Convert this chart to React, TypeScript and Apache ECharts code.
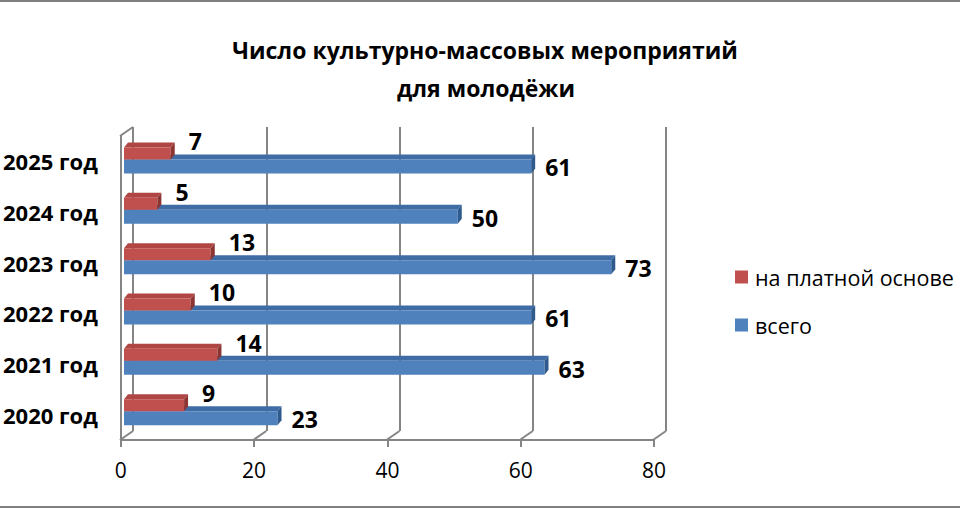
import React, { useEffect, useRef } from "react";
import * as echarts from "echarts";

const categories = ["2020 год", "2021 год", "2022 год", "2023 год", "2024 год", "2025 год"];
const paidValues = [9, 14, 10, 13, 5, 7];
const totalValues = [23, 63, 61, 73, 50, 61];
const seriesNames = ["на платной основе", "всего"];
const xTickValues = [0, 20, 40, 60, 80];
const titleLines = ["Число культурно-массовых мероприятий", "для молодёжи"];

const FONT = "'Open Sans', 'Noto Sans', sans-serif";
const GRAY = "#858585";
const RED = { front: "#C0504D", top: "#B04643", side: "#8C3533" };
const BLUE = { front: "#4F81BD", top: "#3F6CA5", side: "#2F5A8E" };

const FRONT = { left: 120, top: 136, width: 534, height: 304 };
const BACK = { left: 133, top: 127, width: 533, height: 304 };
const BARS = { left: 124, top: 134.3, width: 534, height: 302 };
const DX = FRONT.left - BACK.left;
const DY = FRONT.top + FRONT.height - (BACK.top + BACK.height);

function barRenderer(kind: "paid" | "total") {
  const col = kind === "paid" ? RED : BLUE;
  return (params: any, api: any) => {
    const v = api.value(0);
    const ci = api.value(1);
    const base = api.coord([0, ci]);
    const end = api.coord([v, ci]);
    const c = base[1];
    const h = kind === "paid" ? 12 : 14;
    const y0 = kind === "paid" ? c - 12 : c;
    const x0 = base[0];
    const x1 = end[0];
    const ddx = 4;
    const ddy = 5;
    return {
      type: "group",
      children: [
        {
          type: "polygon",
          shape: { points: [[x0, y0], [x0 + ddx, y0 - ddy], [x1 + ddx, y0 - ddy], [x1, y0]] },
          style: { fill: col.top },
        },
        {
          type: "rect",
          shape: { x: x0, y: y0, width: x1 - x0, height: h },
          style: { fill: col.front },
        },
        {
          type: "polygon",
          shape: { points: [[x1, y0], [x1 + ddx, y0 - ddy], [x1 + ddx, y0 + h - ddy], [x1, y0 + h]] },
          style: { fill: col.side },
        },
        {
          type: "text",
          x: x1 + (kind === "paid" ? 18 : 14),
          y: kind === "paid" ? c - 18 : c + 8,
          style: {
            text: String(v),
            fill: "#000",
            font: `bold 23px ${FONT}`,
            textAlign: "left",
            textVerticalAlign: "middle",
          },
        },
      ],
    };
  };
}

function frameRenderer(params: any, api: any) {
  const v = api.value(0);
  const p = api.coord([v, 0]);
  const children: any[] = [
    {
      type: "line",
      shape: { x1: p[0], y1: p[1], x2: p[0] + DX, y2: p[1] + DY },
      style: { stroke: GRAY, lineWidth: 2 },
    },
  ];
  if (params.dataIndex === 0) {
    const q = api.coord([v, 1]);
    children.push({
      type: "line",
      shape: { x1: q[0], y1: q[1], x2: q[0] + DX, y2: q[1] + DY },
      style: { stroke: GRAY, lineWidth: 2 },
    });
  }
  return { type: "group", children };
}

export default function App() {
  const ref = useRef<HTMLDivElement>(null);
  useEffect(() => {
    if (!ref.current) return;
    const chart = echarts.init(ref.current, undefined, { renderer: "svg" });
    chart.setOption({
      animation: false,
      backgroundColor: "#fff",
      textStyle: { fontFamily: FONT },
      grid: [
        { ...BARS, containLabel: false },
        { ...BACK, containLabel: false },
        { ...FRONT, containLabel: false },
      ],
      xAxis: [
        { gridIndex: 0, type: "value", min: 0, max: 80, interval: 20, show: false },
        {
          gridIndex: 1,
          type: "value",
          min: 0,
          max: 80,
          interval: 20,
          axisLine: { show: false },
          axisTick: { show: false },
          axisLabel: { show: false },
          splitLine: { show: true, lineStyle: { color: GRAY, width: 2 } },
        },
        {
          gridIndex: 2,
          type: "value",
          min: 0,
          max: 80,
          interval: 20,
          axisLine: { show: true, lineStyle: { color: GRAY, width: 2 } },
          axisTick: { show: true, length: 7, lineStyle: { color: GRAY, width: 2 } },
          axisLabel: { fontSize: 21, color: "#000", margin: 19, fontFamily: FONT },
          splitLine: { show: false },
        },
      ],
      yAxis: [
        { gridIndex: 0, type: "category", data: categories, show: false },
        { gridIndex: 1, type: "value", min: 0, max: 1, show: false },
        {
          gridIndex: 2,
          type: "category",
          data: categories,
          axisLine: { show: true, lineStyle: { color: GRAY, width: 2 } },
          axisTick: { show: false },
          axisLabel: {
            fontSize: 22,
            fontWeight: "bold",
            color: "#000",
            margin: 23,
            fontFamily: FONT,
            padding: [6, 0, 0, 0],
          },
          splitLine: { show: false },
        },
      ],
      legend: {
        orient: "vertical",
        left: 735,
        top: 266,
        padding: 0,
        itemWidth: 13,
        itemHeight: 13,
        itemGap: 26,
        icon: "rect",
        data: seriesNames,
        textStyle: {
          fontSize: 21.5,
          color: "#000",
          fontFamily: FONT,
          lineHeight: 21,
          padding: [0, 0, 0, 2],
        },
      },
      graphic: [
        {
          type: "line",
          shape: { x1: 0, y1: 1, x2: 960, y2: 1 },
          style: { stroke: "#7f7f7f", lineWidth: 2 },
        },
        {
          type: "line",
          shape: { x1: 0, y1: 507, x2: 960, y2: 507 },
          style: { stroke: "#7f7f7f", lineWidth: 2 },
        },
        {
          type: "text",
          x: 485,
          y: 50,
          style: {
            text: titleLines[0],
            font: `bold 23px ${FONT}`,
            fill: "#000",
            textAlign: "center",
            textVerticalAlign: "middle",
          },
        },
        {
          type: "text",
          x: 486,
          y: 88,
          style: {
            text: titleLines[1],
            font: `bold 23px ${FONT}`,
            fill: "#000",
            textAlign: "center",
            textVerticalAlign: "middle",
          },
        },
      ],
      series: [
        {
          name: seriesNames[0],
          type: "custom",
          xAxisIndex: 0,
          yAxisIndex: 0,
          z: 4,
          itemStyle: { color: RED.front },
          renderItem: barRenderer("paid"),
          data: paidValues.map((v, i) => [v, i]),
          encode: { x: 0, y: 1 },
        },
        {
          name: seriesNames[1],
          type: "custom",
          xAxisIndex: 0,
          yAxisIndex: 0,
          z: 3,
          itemStyle: { color: BLUE.front },
          renderItem: barRenderer("total"),
          data: totalValues.map((v, i) => [v, i]),
          encode: { x: 0, y: 1 },
        },
        {
          name: "frame",
          type: "custom",
          xAxisIndex: 1,
          yAxisIndex: 1,
          z: 1,
          silent: true,
          renderItem: frameRenderer,
          data: xTickValues.map((v) => [v, 0]),
          encode: { x: 0, y: 1 },
        },
      ],
    });
    return () => chart.dispose();
  }, []);
  return (
    <div
      ref={ref}
      style={{ position: "fixed", left: 0, top: 0, width: 960, height: 510, background: "#fff" }}
    />
  );
}
